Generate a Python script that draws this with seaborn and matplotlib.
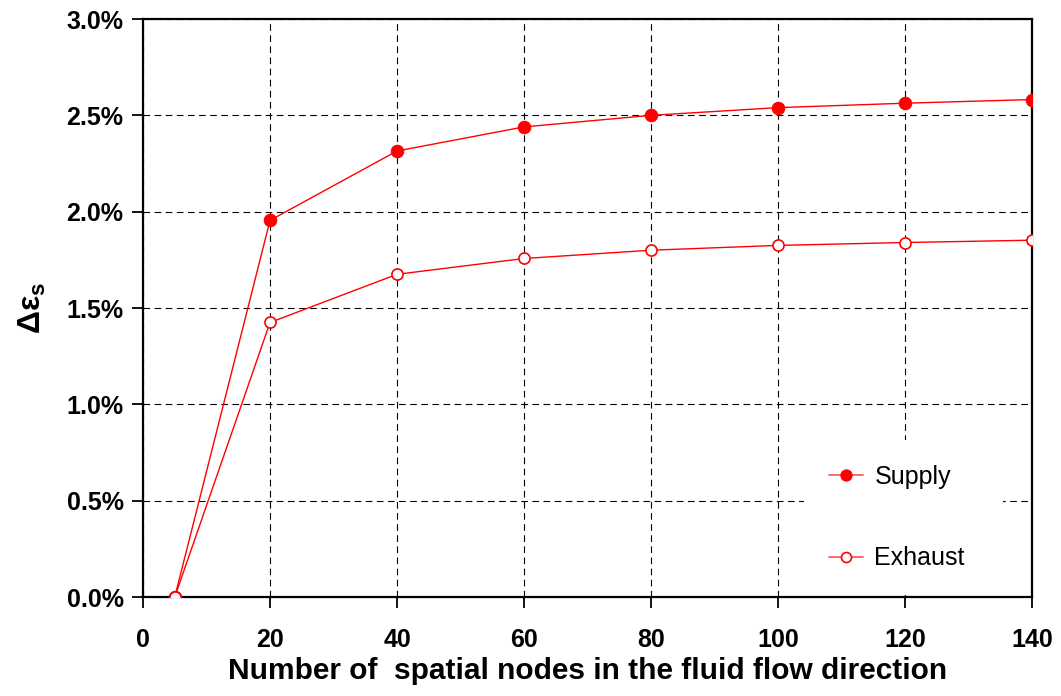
import matplotlib
matplotlib.use("Agg")
import matplotlib.pyplot as plt
import seaborn as sns
import pandas as pd
from matplotlib.ticker import FuncFormatter

nodes = [5, 20, 40, 60, 80, 100, 120, 140]
supply = [0.0, 1.955, 2.315, 2.44, 2.50, 2.54, 2.563, 2.582]
exhaust = [0.0, 1.425, 1.675, 1.757, 1.80, 1.825, 1.84, 1.852]
x_ticks = [0, 20, 40, 60, 80, 100, 120, 140]
y_ticks = [0.0, 0.5, 1.0, 1.5, 2.0, 2.5, 3.0]

sns.set_theme(style="white")
plt.rcParams['font.family'] = ['Liberation Sans', 'DejaVu Sans']
plt.rcParams['mathtext.fontset'] = 'custom'
plt.rcParams['mathtext.rm'] = 'Liberation Sans:bold'
plt.rcParams['mathtext.it'] = 'Liberation Sans:bold'
plt.rcParams['mathtext.bf'] = 'Liberation Sans:bold'
plt.rcParams['text.color'] = 'black'
plt.rcParams['axes.labelcolor'] = 'black'
plt.rcParams['xtick.color'] = 'black'
plt.rcParams['ytick.color'] = 'black'

df_s = pd.DataFrame({"x": nodes, "y": supply})
df_e = pd.DataFrame({"x": nodes, "y": exhaust})

fig = plt.figure(figsize=(10.61, 6.96), dpi=100)
ax = fig.add_axes([0.1348, 0.1422, 0.8379, 0.8305])

sns.lineplot(data=df_s, x="x", y="y", ax=ax, color="#ff0000", lw=1.0,
             marker="o", markersize=9, markerfacecolor="#ff0000",
             markeredgecolor="#ff0000", label="Supply", zorder=3)
sns.lineplot(data=df_e, x="x", y="y", ax=ax, color="#ff0000", lw=1.0,
             marker="o", markersize=8, markerfacecolor="white",
             markeredgecolor="#ff0000", markeredgewidth=1.2,
             label="Exhaust", zorder=3)

ax.set_xlim(0, 140)
ax.set_ylim(0, 3.0)
ax.set_xticks(x_ticks)
ax.set_yticks(y_ticks)
ax.yaxis.set_major_formatter(FuncFormatter(lambda v, p: f"{v:.1f}%"))
ax.grid(True, color="black", lw=0.8, linestyle=(0, (6, 4)))
ax.set_axisbelow(True)

for s in ax.spines.values():
    s.set_visible(True)
    s.set_color("black")
    s.set_linewidth(1.6)

ax.tick_params(axis="both", which="major", direction="out", length=8,
               width=1.3, color="black", labelsize=18, labelcolor="black",
               bottom=True, left=True)
ax.tick_params(axis="y", pad=6)
ax.tick_params(axis="x", pad=14)
for lab in ax.get_xticklabels() + ax.get_yticklabels():
    lab.set_fontweight("bold")

ax.set_xlabel("Number of  spatial nodes in the fluid flow direction",
              fontsize=21.5, fontweight="bold", labelpad=4)
ax.set_ylabel(r"$\Delta\varepsilon_{s}$", fontsize=23, labelpad=13)

leg = ax.legend(loc="lower left", bbox_to_anchor=(0.744, 0.003, 0.223, 0.29),
                mode="expand", fontsize=18, frameon=True, fancybox=False,
                framealpha=1, facecolor="white", edgecolor="white",
                labelspacing=2.3, handlelength=1.35, handletextpad=0.45,
                borderpad=1.0, borderaxespad=0, markerscale=0.9)
leg.get_frame().set_linewidth(0)
for ln in leg.get_lines():
    ln.set_color("#ff6a6a")
    ln.set_linewidth(1.4)
for t in leg.get_texts():
    t.set_color("black")

fig.savefig("out.png", dpi=100)
